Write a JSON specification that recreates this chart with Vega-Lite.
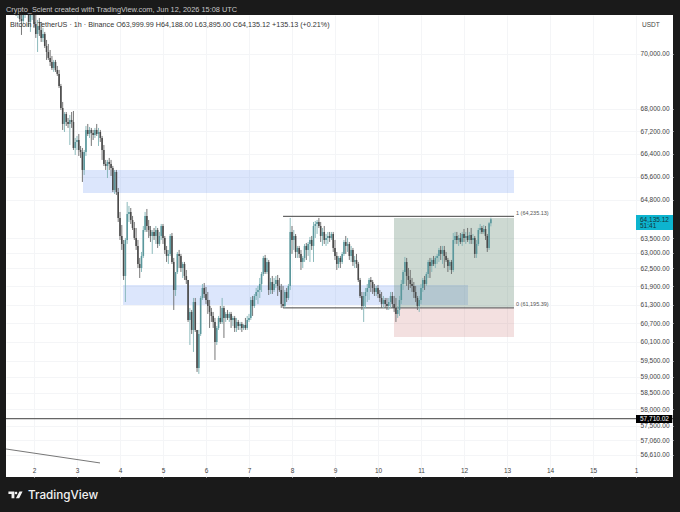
{
  "$schema": "https://vega.github.io/schema/vega-lite/v6.json",
  "width": 667,
  "height": 462,
  "autosize": {"type": "none"},
  "padding": {"left": 6, "top": 15, "right": 7, "bottom": 35},
  "background": "#1a1a1a",
  "config": {"font": "Liberation Sans", "view": {"fill": "#ffffff", "stroke": null}},
  "datasets": {
    "blueZones": [
      {"t": "2026-06-03T03:21Z", "t2": "2026-06-13T03:54Z", "p": 65831, "p2": 65034},
      {"t": "2026-06-04T01:40Z", "t2": "2026-06-12T02:14Z", "p": 61942, "p2": 61290}
    ],
    "profitZone": [{"t": "2026-06-10T08:56Z", "t2": "2026-06-13T03:54Z", "p": 64179, "p2": 61225}],
    "lossZone": [{"t": "2026-06-10T08:56Z", "t2": "2026-06-13T03:54Z", "p": 61193, "p2": 60260}],
    "fibLines": [
      {"t": "2026-06-07T19:00Z", "t2": "2026-06-13T03:54Z", "p": 64235.13},
      {"t": "2026-06-07T19:00Z", "t2": "2026-06-13T03:54Z", "p": 61195.39}
    ],
    "fibLabels": [
      {"t": "2026-06-13T05:00Z", "p": 64360, "label": "1 (64,235.13)"},
      {"t": "2026-06-13T05:00Z", "p": 61320, "label": "0 (61,195.39)"}
    ],
    "level": [{"t": "2026-06-01T08:22Z", "t2": "2026-06-16T20:39Z", "p": 57710.02}],
    "trend": [{"t": "2026-06-01T08:22Z", "t2": "2026-06-03T12:50Z", "p": 56790, "p2": 56372}],
    "lastTag": [{"t": "2026-06-16T00:00Z", "t2": "2026-06-16T20:39Z", "p": 64281, "p2": 63772}],
    "levelTag": [{"t": "2026-06-16T00:00Z", "t2": "2026-06-16T20:15Z", "p": 57823, "p2": 57579}],
    "tagDark": [
      {"t": "2026-06-16T02:14Z", "p": 64111, "label": "64,135.12"},
      {"t": "2026-06-16T02:14Z", "p": 63890, "label": "51:41"}
    ],
    "tagLight": [{"t": "2026-06-16T02:14Z", "p": 57710, "label": "57,710.02"}],
    "legend": [{"t": "2026-06-01T10:36Z", "p": 71085, "label": "Bitcoin / TetherUS · 1h · Binance  O63,999.99  H64,188.00  L63,895.00  C64,135.12  +135.13 (+0.21%)"}],
    "currency": [{"t": "2026-06-16T03:20Z", "p": 71085, "label": "USDT"}],
    "header": [{"t": "2026-06-01T08:22Z", "p": 71649, "label": "Crypto_Scient created with TradingView.com, Jun 12, 2026 15:08 UTC"}],
    "brand": [{"t": "2026-06-01T20:39Z", "p": 55426, "label": "TradingView"}],
    "brandMark": [{"t": "2026-06-01T13:40Z", "p": 55426}],
    "candles": [
      {"t":"2026-06-01T09:00Z","o":71839,"h":71954,"l":71574,"c":71724},
      {"t":"2026-06-01T10:00Z","o":71724,"h":71878,"l":71574,"c":71800},
      {"t":"2026-06-01T11:00Z","o":71800,"h":71916,"l":71537,"c":71649},
      {"t":"2026-06-01T12:00Z","o":71649,"h":71839,"l":71498,"c":71574},
      {"t":"2026-06-01T13:00Z","o":71574,"h":71800,"l":71537,"c":71724},
      {"t":"2026-06-01T14:00Z","o":71724,"h":71839,"l":71422,"c":71537},
      {"t":"2026-06-01T15:00Z","o":71537,"h":71649,"l":71348,"c":71612},
      {"t":"2026-06-01T16:00Z","o":71612,"h":71724,"l":71198,"c":71310},
      {"t":"2026-06-01T17:00Z","o":71310,"h":71574,"l":70710,"c":71235},
      {"t":"2026-06-01T18:00Z","o":71235,"h":71574,"l":71123,"c":71498},
      {"t":"2026-06-01T19:00Z","o":71498,"h":71800,"l":71348,"c":71649},
      {"t":"2026-06-01T20:00Z","o":71649,"h":71800,"l":71498,"c":71574},
      {"t":"2026-06-01T21:00Z","o":71574,"h":71724,"l":71010,"c":71198},
      {"t":"2026-06-01T22:00Z","o":71198,"h":71649,"l":70822,"c":71498},
      {"t":"2026-06-01T23:00Z","o":71498,"h":71724,"l":71273,"c":71574},
      {"t":"2026-06-02T00:00Z","o":71574,"h":71724,"l":70972,"c":71123},
      {"t":"2026-06-02T01:00Z","o":71123,"h":71498,"l":70597,"c":70747},
      {"t":"2026-06-02T02:00Z","o":70747,"h":71273,"l":70074,"c":71048},
      {"t":"2026-06-02T03:00Z","o":71048,"h":71348,"l":70672,"c":70897},
      {"t":"2026-06-02T04:00Z","o":70897,"h":71198,"l":70447,"c":70597},
      {"t":"2026-06-02T05:00Z","o":70597,"h":70972,"l":70447,"c":70747},
      {"t":"2026-06-02T06:00Z","o":70747,"h":70822,"l":70222,"c":70297},
      {"t":"2026-06-02T07:00Z","o":70297,"h":70522,"l":69780,"c":70074},
      {"t":"2026-06-02T08:00Z","o":70074,"h":70372,"l":69780,"c":69854},
      {"t":"2026-06-02T09:00Z","o":69854,"h":70148,"l":69558,"c":69706},
      {"t":"2026-06-02T10:00Z","o":69706,"h":69927,"l":69411,"c":69484},
      {"t":"2026-06-02T11:00Z","o":69484,"h":69780,"l":69338,"c":69706},
      {"t":"2026-06-02T12:00Z","o":69706,"h":69780,"l":69338,"c":69411},
      {"t":"2026-06-02T13:00Z","o":69411,"h":69558,"l":69191,"c":69265},
      {"t":"2026-06-02T14:00Z","o":69265,"h":69411,"l":68752,"c":68825},
      {"t":"2026-06-02T15:00Z","o":68825,"h":68898,"l":67955,"c":68027},
      {"t":"2026-06-02T16:00Z","o":68027,"h":68244,"l":67240,"c":67454},
      {"t":"2026-06-02T17:00Z","o":67454,"h":67883,"l":67169,"c":67812},
      {"t":"2026-06-02T18:00Z","o":67812,"h":67883,"l":67383,"c":67526},
      {"t":"2026-06-02T19:00Z","o":67526,"h":67669,"l":67312,"c":67454},
      {"t":"2026-06-02T20:00Z","o":67454,"h":67776,"l":66708,"c":67597},
      {"t":"2026-06-02T21:00Z","o":67597,"h":67883,"l":67312,"c":67526},
      {"t":"2026-06-02T22:00Z","o":67526,"h":67919,"l":66532,"c":66602},
      {"t":"2026-06-02T23:00Z","o":66602,"h":66956,"l":66356,"c":66814},
      {"t":"2026-06-03T00:00Z","o":66814,"h":67027,"l":66532,"c":66885},
      {"t":"2026-06-03T01:00Z","o":66885,"h":67098,"l":66321,"c":66532},
      {"t":"2026-06-03T02:00Z","o":66532,"h":66673,"l":66251,"c":66462},
      {"t":"2026-06-03T03:00Z","o":66462,"h":66602,"l":65414,"c":65831},
      {"t":"2026-06-03T04:00Z","o":65831,"h":66532,"l":65657,"c":66462},
      {"t":"2026-06-03T05:00Z","o":66462,"h":67383,"l":66321,"c":67240},
      {"t":"2026-06-03T06:00Z","o":67240,"h":67454,"l":67027,"c":67098},
      {"t":"2026-06-03T07:00Z","o":67098,"h":67347,"l":66956,"c":67240},
      {"t":"2026-06-03T08:00Z","o":67240,"h":67312,"l":66673,"c":67134},
      {"t":"2026-06-03T09:00Z","o":67134,"h":67240,"l":66885,"c":67063},
      {"t":"2026-06-03T10:00Z","o":67063,"h":67312,"l":66956,"c":67240},
      {"t":"2026-06-03T11:00Z","o":67240,"h":67454,"l":67027,"c":67098},
      {"t":"2026-06-03T12:00Z","o":67098,"h":67312,"l":66673,"c":67169},
      {"t":"2026-06-03T13:00Z","o":67169,"h":67240,"l":66814,"c":66956},
      {"t":"2026-06-03T14:00Z","o":66956,"h":67027,"l":66181,"c":66532},
      {"t":"2026-06-03T15:00Z","o":66532,"h":66708,"l":65971,"c":66041},
      {"t":"2026-06-03T16:00Z","o":66041,"h":66181,"l":65831,"c":65971},
      {"t":"2026-06-03T17:00Z","o":65971,"h":66181,"l":65552,"c":66111},
      {"t":"2026-06-03T18:00Z","o":66111,"h":66251,"l":65831,"c":66041},
      {"t":"2026-06-03T19:00Z","o":66041,"h":66181,"l":65622,"c":65901},
      {"t":"2026-06-03T20:00Z","o":65901,"h":65971,"l":65068,"c":65137},
      {"t":"2026-06-03T21:00Z","o":65137,"h":65831,"l":64999,"c":65761},
      {"t":"2026-06-03T22:00Z","o":65761,"h":65831,"l":64965,"c":65068},
      {"t":"2026-06-03T23:00Z","o":65068,"h":65206,"l":64043,"c":64179},
      {"t":"2026-06-04T00:00Z","o":64179,"h":64383,"l":63436,"c":63570},
      {"t":"2026-06-04T01:00Z","o":63570,"h":63941,"l":63101,"c":63302},
      {"t":"2026-06-04T02:00Z","o":63302,"h":63436,"l":62106,"c":62238},
      {"t":"2026-06-04T03:00Z","o":62238,"h":63503,"l":61387,"c":63436},
      {"t":"2026-06-04T04:00Z","o":63436,"h":64725,"l":63302,"c":64315},
      {"t":"2026-06-04T05:00Z","o":64315,"h":64588,"l":64043,"c":64383},
      {"t":"2026-06-04T06:00Z","o":64383,"h":64519,"l":63975,"c":64111},
      {"t":"2026-06-04T07:00Z","o":64111,"h":64247,"l":63772,"c":63840},
      {"t":"2026-06-04T08:00Z","o":63840,"h":64043,"l":63436,"c":63503},
      {"t":"2026-06-04T09:00Z","o":63503,"h":63840,"l":63101,"c":63235},
      {"t":"2026-06-04T10:00Z","o":63235,"h":63436,"l":62502,"c":62635},
      {"t":"2026-06-04T11:00Z","o":62635,"h":62835,"l":62172,"c":62502},
      {"t":"2026-06-04T12:00Z","o":62502,"h":63034,"l":62370,"c":62901},
      {"t":"2026-06-04T13:00Z","o":62901,"h":63907,"l":62835,"c":63772},
      {"t":"2026-06-04T14:00Z","o":63772,"h":64383,"l":63705,"c":64247},
      {"t":"2026-06-04T15:00Z","o":64247,"h":64485,"l":63705,"c":63907},
      {"t":"2026-06-04T16:00Z","o":63907,"h":64111,"l":63503,"c":63772},
      {"t":"2026-06-04T17:00Z","o":63772,"h":63907,"l":63369,"c":63570},
      {"t":"2026-06-04T18:00Z","o":63570,"h":63772,"l":62968,"c":63705},
      {"t":"2026-06-04T19:00Z","o":63705,"h":63840,"l":63436,"c":63570},
      {"t":"2026-06-04T20:00Z","o":63570,"h":63907,"l":63302,"c":63772},
      {"t":"2026-06-04T21:00Z","o":63772,"h":63840,"l":63168,"c":63302},
      {"t":"2026-06-04T22:00Z","o":63302,"h":63705,"l":63235,"c":63570},
      {"t":"2026-06-04T23:00Z","o":63570,"h":63975,"l":63436,"c":63907},
      {"t":"2026-06-05T00:00Z","o":63907,"h":63975,"l":63302,"c":63503},
      {"t":"2026-06-05T01:00Z","o":63503,"h":63570,"l":62968,"c":63101},
      {"t":"2026-06-05T02:00Z","o":63101,"h":63235,"l":62702,"c":62901},
      {"t":"2026-06-05T03:00Z","o":62901,"h":63101,"l":62635,"c":62968},
      {"t":"2026-06-05T04:00Z","o":62968,"h":63637,"l":62901,"c":63570},
      {"t":"2026-06-05T05:00Z","o":63570,"h":63671,"l":62635,"c":62702},
      {"t":"2026-06-05T06:00Z","o":62702,"h":62835,"l":61128,"c":61778},
      {"t":"2026-06-05T07:00Z","o":61778,"h":62370,"l":61582,"c":62370},
      {"t":"2026-06-05T08:00Z","o":62370,"h":63034,"l":62304,"c":62968},
      {"t":"2026-06-05T09:00Z","o":62968,"h":63101,"l":62502,"c":62901},
      {"t":"2026-06-05T10:00Z","o":62901,"h":62968,"l":62370,"c":62502},
      {"t":"2026-06-05T11:00Z","o":62502,"h":62702,"l":62172,"c":62635},
      {"t":"2026-06-05T12:00Z","o":62635,"h":62702,"l":62106,"c":62238},
      {"t":"2026-06-05T13:00Z","o":62238,"h":62436,"l":61975,"c":62106},
      {"t":"2026-06-05T14:00Z","o":62106,"h":62106,"l":60741,"c":60805},
      {"t":"2026-06-05T15:00Z","o":60805,"h":61193,"l":60005,"c":61064},
      {"t":"2026-06-05T16:00Z","o":61064,"h":61128,"l":60356,"c":60484},
      {"t":"2026-06-05T17:00Z","o":60484,"h":61517,"l":59784,"c":61387},
      {"t":"2026-06-05T18:00Z","o":61387,"h":61517,"l":60420,"c":60484},
      {"t":"2026-06-05T19:00Z","o":60484,"h":60484,"l":59155,"c":59280},
      {"t":"2026-06-05T20:00Z","o":59280,"h":60484,"l":59093,"c":60356},
      {"t":"2026-06-05T21:00Z","o":60356,"h":61582,"l":60292,"c":61517},
      {"t":"2026-06-05T22:00Z","o":61517,"h":61975,"l":61452,"c":61844},
      {"t":"2026-06-05T23:00Z","o":61844,"h":62007,"l":61517,"c":61647},
      {"t":"2026-06-06T00:00Z","o":61647,"h":61877,"l":61323,"c":61452},
      {"t":"2026-06-06T01:00Z","o":61452,"h":61713,"l":60999,"c":61258},
      {"t":"2026-06-06T02:00Z","o":61258,"h":61452,"l":60548,"c":61064},
      {"t":"2026-06-06T03:00Z","o":61064,"h":61193,"l":60741,"c":60934},
      {"t":"2026-06-06T04:00Z","o":60934,"h":61064,"l":60548,"c":60741},
      {"t":"2026-06-06T05:00Z","o":60741,"h":60870,"l":59531,"c":60100},
      {"t":"2026-06-06T06:00Z","o":60100,"h":60612,"l":60005,"c":60548},
      {"t":"2026-06-06T07:00Z","o":60548,"h":60934,"l":60484,"c":60870},
      {"t":"2026-06-06T08:00Z","o":60870,"h":61258,"l":60676,"c":60741},
      {"t":"2026-06-06T09:00Z","o":60741,"h":61517,"l":60676,"c":61193},
      {"t":"2026-06-06T10:00Z","o":61193,"h":61258,"l":60228,"c":60870},
      {"t":"2026-06-06T11:00Z","o":60870,"h":61064,"l":60741,"c":60999},
      {"t":"2026-06-06T12:00Z","o":60999,"h":61128,"l":60805,"c":60870},
      {"t":"2026-06-06T13:00Z","o":60870,"h":61064,"l":60741,"c":60999},
      {"t":"2026-06-06T14:00Z","o":60999,"h":61064,"l":60548,"c":60805},
      {"t":"2026-06-06T15:00Z","o":60805,"h":60934,"l":60612,"c":60870},
      {"t":"2026-06-06T16:00Z","o":60870,"h":60934,"l":60420,"c":60548},
      {"t":"2026-06-06T17:00Z","o":60548,"h":60870,"l":60420,"c":60741},
      {"t":"2026-06-06T18:00Z","o":60741,"h":60805,"l":60484,"c":60612},
      {"t":"2026-06-06T19:00Z","o":60612,"h":60741,"l":60484,"c":60676},
      {"t":"2026-06-06T20:00Z","o":60676,"h":60741,"l":60420,"c":60548},
      {"t":"2026-06-06T21:00Z","o":60548,"h":60676,"l":60484,"c":60644},
      {"t":"2026-06-06T22:00Z","o":60644,"h":60870,"l":60484,"c":60548},
      {"t":"2026-06-06T23:00Z","o":60548,"h":60934,"l":60484,"c":60805},
      {"t":"2026-06-07T00:00Z","o":60805,"h":60999,"l":60741,"c":60870},
      {"t":"2026-06-07T01:00Z","o":60870,"h":61550,"l":60805,"c":61452},
      {"t":"2026-06-07T02:00Z","o":61452,"h":61582,"l":60934,"c":61258},
      {"t":"2026-06-07T03:00Z","o":61258,"h":61647,"l":61193,"c":61582},
      {"t":"2026-06-07T04:00Z","o":61582,"h":61844,"l":61452,"c":61713},
      {"t":"2026-06-07T05:00Z","o":61713,"h":61910,"l":61323,"c":61778},
      {"t":"2026-06-07T06:00Z","o":61778,"h":62172,"l":61517,"c":61975},
      {"t":"2026-06-07T07:00Z","o":61975,"h":62370,"l":61713,"c":62304},
      {"t":"2026-06-07T08:00Z","o":62304,"h":62901,"l":62238,"c":62835},
      {"t":"2026-06-07T09:00Z","o":62835,"h":62935,"l":62304,"c":62370},
      {"t":"2026-06-07T10:00Z","o":62370,"h":62835,"l":62304,"c":62702},
      {"t":"2026-06-07T11:00Z","o":62702,"h":62768,"l":61615,"c":61778},
      {"t":"2026-06-07T12:00Z","o":61778,"h":62172,"l":61647,"c":62040},
      {"t":"2026-06-07T13:00Z","o":62040,"h":62238,"l":61647,"c":61778},
      {"t":"2026-06-07T14:00Z","o":61778,"h":62172,"l":61713,"c":61975},
      {"t":"2026-06-07T15:00Z","o":61975,"h":62238,"l":61844,"c":62106},
      {"t":"2026-06-07T16:00Z","o":62106,"h":62271,"l":61582,"c":61910},
      {"t":"2026-06-07T17:00Z","o":61910,"h":62172,"l":61713,"c":61778},
      {"t":"2026-06-07T18:00Z","o":61778,"h":61975,"l":61193,"c":61323},
      {"t":"2026-06-07T19:00Z","o":61323,"h":61910,"l":61193,"c":61258},
      {"t":"2026-06-07T20:00Z","o":61258,"h":61778,"l":61193,"c":61713},
      {"t":"2026-06-07T21:00Z","o":61713,"h":61844,"l":61387,"c":61517},
      {"t":"2026-06-07T22:00Z","o":61517,"h":61975,"l":61452,"c":61910},
      {"t":"2026-06-07T23:00Z","o":61910,"h":64179,"l":61778,"c":63705},
      {"t":"2026-06-08T00:00Z","o":63705,"h":63907,"l":62968,"c":63436},
      {"t":"2026-06-08T01:00Z","o":63436,"h":63772,"l":63101,"c":63570},
      {"t":"2026-06-08T02:00Z","o":63570,"h":63637,"l":62835,"c":63034},
      {"t":"2026-06-08T03:00Z","o":63034,"h":63235,"l":62835,"c":63168},
      {"t":"2026-06-08T04:00Z","o":63168,"h":63235,"l":62835,"c":62968},
      {"t":"2026-06-08T05:00Z","o":62968,"h":63101,"l":62436,"c":62702},
      {"t":"2026-06-08T06:00Z","o":62702,"h":62901,"l":62502,"c":62835},
      {"t":"2026-06-08T07:00Z","o":62835,"h":63302,"l":62702,"c":63235},
      {"t":"2026-06-08T08:00Z","o":63235,"h":63336,"l":62768,"c":63101},
      {"t":"2026-06-08T09:00Z","o":63101,"h":63369,"l":62901,"c":63302},
      {"t":"2026-06-08T10:00Z","o":63302,"h":63537,"l":62702,"c":63436},
      {"t":"2026-06-08T11:00Z","o":63436,"h":63570,"l":63101,"c":63235},
      {"t":"2026-06-08T12:00Z","o":63235,"h":64043,"l":62702,"c":63907},
      {"t":"2026-06-08T13:00Z","o":63907,"h":64077,"l":63503,"c":63975},
      {"t":"2026-06-08T14:00Z","o":63975,"h":64111,"l":63637,"c":64043},
      {"t":"2026-06-08T15:00Z","o":64043,"h":64179,"l":63840,"c":63907},
      {"t":"2026-06-08T16:00Z","o":63907,"h":64043,"l":63369,"c":63570},
      {"t":"2026-06-08T17:00Z","o":63570,"h":63840,"l":63235,"c":63705},
      {"t":"2026-06-08T18:00Z","o":63705,"h":63907,"l":63302,"c":63436},
      {"t":"2026-06-08T19:00Z","o":63436,"h":63637,"l":63235,"c":63503},
      {"t":"2026-06-08T20:00Z","o":63503,"h":63705,"l":63302,"c":63570},
      {"t":"2026-06-08T21:00Z","o":63570,"h":63705,"l":63369,"c":63503},
      {"t":"2026-06-08T22:00Z","o":63503,"h":63705,"l":63436,"c":63637},
      {"t":"2026-06-08T23:00Z","o":63637,"h":63705,"l":63034,"c":63168},
      {"t":"2026-06-09T00:00Z","o":63168,"h":63436,"l":62768,"c":62901},
      {"t":"2026-06-09T01:00Z","o":62901,"h":63034,"l":62436,"c":62635},
      {"t":"2026-06-09T02:00Z","o":62635,"h":62901,"l":62502,"c":62835},
      {"t":"2026-06-09T03:00Z","o":62835,"h":62901,"l":62502,"c":62702},
      {"t":"2026-06-09T04:00Z","o":62702,"h":63034,"l":62635,"c":62968},
      {"t":"2026-06-09T05:00Z","o":62968,"h":63436,"l":62901,"c":63369},
      {"t":"2026-06-09T06:00Z","o":63369,"h":63570,"l":62968,"c":63235},
      {"t":"2026-06-09T07:00Z","o":63235,"h":63503,"l":63034,"c":63302},
      {"t":"2026-06-09T08:00Z","o":63302,"h":63369,"l":62768,"c":62901},
      {"t":"2026-06-09T09:00Z","o":62901,"h":63235,"l":62702,"c":63101},
      {"t":"2026-06-09T10:00Z","o":63101,"h":63168,"l":62569,"c":62702},
      {"t":"2026-06-09T11:00Z","o":62702,"h":62901,"l":62502,"c":62768},
      {"t":"2026-06-09T12:00Z","o":62768,"h":62968,"l":62502,"c":62635},
      {"t":"2026-06-09T13:00Z","o":62635,"h":62702,"l":62040,"c":62106},
      {"t":"2026-06-09T14:00Z","o":62106,"h":62172,"l":61517,"c":61582},
      {"t":"2026-06-09T15:00Z","o":61582,"h":61713,"l":61128,"c":61258},
      {"t":"2026-06-09T16:00Z","o":61258,"h":61713,"l":60741,"c":61582},
      {"t":"2026-06-09T17:00Z","o":61582,"h":61844,"l":61193,"c":61713},
      {"t":"2026-06-09T18:00Z","o":61713,"h":61975,"l":61387,"c":61844},
      {"t":"2026-06-09T19:00Z","o":61844,"h":62172,"l":61452,"c":62106},
      {"t":"2026-06-09T20:00Z","o":62106,"h":62205,"l":61713,"c":62040},
      {"t":"2026-06-09T21:00Z","o":62040,"h":62106,"l":61647,"c":61844},
      {"t":"2026-06-09T22:00Z","o":61844,"h":61975,"l":61582,"c":61713},
      {"t":"2026-06-09T23:00Z","o":61713,"h":61910,"l":61582,"c":61844},
      {"t":"2026-06-10T00:00Z","o":61844,"h":61942,"l":61517,"c":61647},
      {"t":"2026-06-10T01:00Z","o":61647,"h":61778,"l":61387,"c":61517},
      {"t":"2026-06-10T02:00Z","o":61517,"h":61713,"l":61193,"c":61323},
      {"t":"2026-06-10T03:00Z","o":61323,"h":61582,"l":61193,"c":61452},
      {"t":"2026-06-10T04:00Z","o":61452,"h":61517,"l":61193,"c":61323},
      {"t":"2026-06-10T05:00Z","o":61323,"h":61517,"l":61128,"c":61258},
      {"t":"2026-06-10T06:00Z","o":61258,"h":61517,"l":61128,"c":61387},
      {"t":"2026-06-10T07:00Z","o":61387,"h":61713,"l":61193,"c":61582},
      {"t":"2026-06-10T08:00Z","o":61582,"h":61713,"l":61193,"c":61323},
      {"t":"2026-06-10T09:00Z","o":61323,"h":61582,"l":61064,"c":61193},
      {"t":"2026-06-10T10:00Z","o":61193,"h":61517,"l":60741,"c":60999},
      {"t":"2026-06-10T11:00Z","o":60999,"h":61258,"l":60870,"c":61128},
      {"t":"2026-06-10T12:00Z","o":61128,"h":61582,"l":60934,"c":61452},
      {"t":"2026-06-10T13:00Z","o":61452,"h":62106,"l":61323,"c":61975},
      {"t":"2026-06-10T14:00Z","o":61975,"h":62436,"l":61778,"c":62370},
      {"t":"2026-06-10T15:00Z","o":62370,"h":62868,"l":61975,"c":62702},
      {"t":"2026-06-10T16:00Z","o":62702,"h":62835,"l":61910,"c":62238},
      {"t":"2026-06-10T17:00Z","o":62238,"h":62502,"l":61778,"c":62106},
      {"t":"2026-06-10T18:00Z","o":62106,"h":62436,"l":61844,"c":61975},
      {"t":"2026-06-10T19:00Z","o":61975,"h":62172,"l":61713,"c":61910},
      {"t":"2026-06-10T20:00Z","o":61910,"h":62040,"l":61517,"c":61713},
      {"t":"2026-06-10T21:00Z","o":61713,"h":61910,"l":61387,"c":61517},
      {"t":"2026-06-10T22:00Z","o":61517,"h":61582,"l":61128,"c":61258},
      {"t":"2026-06-10T23:00Z","o":61258,"h":61582,"l":61064,"c":61452},
      {"t":"2026-06-11T00:00Z","o":61452,"h":61975,"l":61323,"c":61844},
      {"t":"2026-06-11T01:00Z","o":61844,"h":62172,"l":61713,"c":62106},
      {"t":"2026-06-11T02:00Z","o":62106,"h":62238,"l":61778,"c":61975},
      {"t":"2026-06-11T03:00Z","o":61975,"h":62370,"l":61910,"c":62304},
      {"t":"2026-06-11T04:00Z","o":62304,"h":62768,"l":62172,"c":62702},
      {"t":"2026-06-11T05:00Z","o":62702,"h":62835,"l":62172,"c":62569},
      {"t":"2026-06-11T06:00Z","o":62569,"h":62835,"l":62370,"c":62768},
      {"t":"2026-06-11T07:00Z","o":62768,"h":62901,"l":62569,"c":62635},
      {"t":"2026-06-11T08:00Z","o":62635,"h":62901,"l":62502,"c":62835},
      {"t":"2026-06-11T09:00Z","o":62835,"h":62968,"l":62635,"c":62901},
      {"t":"2026-06-11T10:00Z","o":62901,"h":63168,"l":62702,"c":63101},
      {"t":"2026-06-11T11:00Z","o":63101,"h":63235,"l":62768,"c":62968},
      {"t":"2026-06-11T12:00Z","o":62968,"h":63235,"l":62635,"c":63101},
      {"t":"2026-06-11T13:00Z","o":63101,"h":63235,"l":62502,"c":62901},
      {"t":"2026-06-11T14:00Z","o":62901,"h":63034,"l":62702,"c":62768},
      {"t":"2026-06-11T15:00Z","o":62768,"h":62835,"l":62370,"c":62569},
      {"t":"2026-06-11T16:00Z","o":62569,"h":62768,"l":62436,"c":62702},
      {"t":"2026-06-11T17:00Z","o":62702,"h":62768,"l":62304,"c":62436},
      {"t":"2026-06-11T18:00Z","o":62436,"h":63671,"l":62370,"c":63436},
      {"t":"2026-06-11T19:00Z","o":63436,"h":63705,"l":63302,"c":63570},
      {"t":"2026-06-11T20:00Z","o":63570,"h":63705,"l":63302,"c":63436},
      {"t":"2026-06-11T21:00Z","o":63436,"h":63604,"l":63235,"c":63503},
      {"t":"2026-06-11T22:00Z","o":63503,"h":63671,"l":63302,"c":63369},
      {"t":"2026-06-11T23:00Z","o":63369,"h":63705,"l":63235,"c":63637},
      {"t":"2026-06-12T00:00Z","o":63637,"h":63806,"l":63369,"c":63503},
      {"t":"2026-06-12T01:00Z","o":63503,"h":63705,"l":63302,"c":63570},
      {"t":"2026-06-12T02:00Z","o":63570,"h":63840,"l":63369,"c":63436},
      {"t":"2026-06-12T03:00Z","o":63436,"h":63705,"l":63302,"c":63604},
      {"t":"2026-06-12T04:00Z","o":63604,"h":63840,"l":63302,"c":63436},
      {"t":"2026-06-12T05:00Z","o":63436,"h":63637,"l":63302,"c":63503},
      {"t":"2026-06-12T06:00Z","o":63503,"h":63570,"l":62835,"c":62968},
      {"t":"2026-06-12T07:00Z","o":62968,"h":63436,"l":62835,"c":63302},
      {"t":"2026-06-12T08:00Z","o":63302,"h":63840,"l":63235,"c":63772},
      {"t":"2026-06-12T09:00Z","o":63772,"h":63975,"l":63637,"c":63840},
      {"t":"2026-06-12T10:00Z","o":63840,"h":63907,"l":63637,"c":63705},
      {"t":"2026-06-12T11:00Z","o":63705,"h":63941,"l":63637,"c":63806},
      {"t":"2026-06-12T12:00Z","o":63806,"h":63907,"l":63436,"c":63570},
      {"t":"2026-06-12T13:00Z","o":63570,"h":63637,"l":63034,"c":63168},
      {"t":"2026-06-12T14:00Z","o":63168,"h":64043,"l":63101,"c":64000},
      {"t":"2026-06-12T15:00Z","o":63999.99,"h":64188,"l":63895,"c":64135.12}
    ]
  },
  "encoding": {
    "x": {
      "field": "t",
      "type": "temporal",
      "title": null,
      "scale": {"type": "utc", "domain": ["2026-06-01T08:22Z", "2026-06-16T20:39Z"]},
      "axis": {
        "tickCount": {"interval": "day", "step": 1},
        "grid": true,
        "gridColor": "#f4f5f7",
        "domain": false,
        "ticks": false,
        "labelOverlap": false,
        "labelBound": false,
        "labelFlush": false,
        "labelExpr": "utcdate(datum.value) == 16 ? '1' : utcFormat(datum.value, '%-d')",
        "labelBaseline": "middle",
        "labelPadding": -7,
        "labelFontSize": 6.5,
        "labelColor": "#444444"
      }
    },
    "y": {
      "field": "p",
      "type": "quantitative",
      "title": null,
      "scale": {"type": "log", "domain": [55954, 71460], "nice": false},
      "axis": {
        "orient": "right",
        "values": [70000, 68000, 67200, 66400, 65600, 64800, 63500, 63000, 62500, 61900, 61300, 60700, 60100, 59500, 59000, 58500, 58000, 57500, 57060, 56610],
        "format": ",.2f",
        "grid": true,
        "gridColor": "#f4f5f7",
        "domain": false,
        "ticks": false,
        "labelAlign": "right",
        "labelPadding": -4,
        "labelFontSize": 6.5,
        "labelColor": "#444444",
        "labelOverlap": false,
        "labelBound": false,
        "labelFlush": false
      }
    }
  },
  "layer": [
    {
      "data": {"name": "blueZones", "format": {"parse": {"t": "date", "t2": "date"}}},
      "mark": {"type": "rect", "color": "#5082f0", "opacity": 0.2},
      "encoding": {"x2": {"field": "t2"}, "y2": {"field": "p2"}}
    },
    {
      "data": {"name": "profitZone", "format": {"parse": {"t": "date", "t2": "date"}}},
      "mark": {"type": "rect", "color": "#588069", "opacity": 0.3},
      "encoding": {"x2": {"field": "t2"}, "y2": {"field": "p2"}}
    },
    {
      "data": {"name": "lossZone", "format": {"parse": {"t": "date", "t2": "date"}}},
      "mark": {"type": "rect", "color": "#c36464", "opacity": 0.2},
      "encoding": {"x2": {"field": "t2"}, "y2": {"field": "p2"}}
    },
    {
      "data": {"name": "trend", "format": {"parse": {"t": "date", "t2": "date"}}},
      "mark": {"type": "rule", "color": "#777777", "strokeWidth": 1},
      "encoding": {"x2": {"field": "t2"}, "y2": {"field": "p2"}}
    },
    {
      "data": {"name": "level", "format": {"parse": {"t": "date", "t2": "date"}}},
      "mark": {"type": "rule", "color": "#666666", "strokeWidth": 1.3},
      "encoding": {"x2": {"field": "t2"}}
    },
    {
      "data": {"name": "fibLines", "format": {"parse": {"t": "date", "t2": "date"}}},
      "mark": {"type": "rule", "color": "#444444", "strokeWidth": 1},
      "encoding": {"x2": {"field": "t2"}}
    },
    {
      "data": {"name": "candles", "format": {"parse": {"t": "date"}}},
      "mark": {"type": "rule", "strokeWidth": 0.9, "clip": true},
      "encoding": {
        "y": {"field": "l", "type": "quantitative", "title": null},
        "y2": {"field": "h"},
        "color": {"condition": {"test": "datum.c >= datum.o", "value": "#7fb2b4"}, "value": "#666666"}
      }
    },
    {
      "data": {"name": "candles", "format": {"parse": {"t": "date"}}},
      "mark": {"type": "rule", "strokeWidth": 1.6, "clip": true},
      "encoding": {
        "y": {"field": "o", "type": "quantitative", "title": null},
        "y2": {"field": "c"},
        "color": {"condition": {"test": "datum.c >= datum.o", "value": "#5a979c"}, "value": "#4a4a4a"}
      }
    },
    {
      "data": {"name": "lastTag", "format": {"parse": {"t": "date", "t2": "date"}}},
      "mark": {"type": "rect", "color": "#0db4cf"},
      "encoding": {"x2": {"field": "t2"}, "y2": {"field": "p2"}}
    },
    {
      "data": {"name": "levelTag", "format": {"parse": {"t": "date", "t2": "date"}}},
      "mark": {"type": "rect", "color": "#000000"},
      "encoding": {"x2": {"field": "t2"}, "y2": {"field": "p2"}}
    },
    {
      "data": {"name": "tagDark", "format": {"parse": {"t": "date"}}},
      "mark": {"type": "text", "align": "left", "baseline": "middle", "fontSize": 6.5, "color": "#12343b"},
      "encoding": {"text": {"field": "label"}}
    },
    {
      "data": {"name": "tagLight", "format": {"parse": {"t": "date"}}},
      "mark": {"type": "text", "align": "left", "baseline": "middle", "fontSize": 6.5, "color": "#ffffff"},
      "encoding": {"text": {"field": "label"}}
    },
    {
      "data": {"name": "fibLabels", "format": {"parse": {"t": "date"}}},
      "mark": {"type": "text", "align": "left", "baseline": "middle", "fontSize": 5.5, "color": "#555555"},
      "encoding": {"text": {"field": "label"}}
    },
    {
      "data": {"name": "legend", "format": {"parse": {"t": "date"}}},
      "mark": {"type": "text", "align": "left", "baseline": "middle", "fontSize": 7.2, "color": "#333333"},
      "encoding": {"text": {"field": "label"}}
    },
    {
      "data": {"name": "currency", "format": {"parse": {"t": "date"}}},
      "mark": {"type": "text", "align": "left", "baseline": "middle", "fontSize": 6.5, "color": "#444444"},
      "encoding": {"text": {"field": "label"}}
    },
    {
      "data": {"name": "header", "format": {"parse": {"t": "date"}}},
      "mark": {"type": "text", "align": "left", "baseline": "middle", "fontSize": 7.4, "color": "#c8c8c8"},
      "encoding": {"text": {"field": "label"}}
    },
    {
      "data": {"name": "brand", "format": {"parse": {"t": "date"}}},
      "mark": {"type": "text", "align": "left", "baseline": "middle", "font": "Inter", "fontSize": 11.7, "fontWeight": 500, "color": "#f2f2f2"},
      "encoding": {"text": {"field": "label"}}
    },
    {
      "data": {"name": "brandMark", "format": {"parse": {"t": "date"}}},
      "mark": {
        "type": "point",
        "filled": true,
        "opacity": 1,
        "color": "#f2f2f2",
        "size": 800,
        "shape": "M -0.5 -0.235 H -0.08 V 0.235 H -0.28 V -0.06 H -0.5 Z M -0.05 -0.14 A 0.09 0.09 0 1 0 0.13 -0.14 A 0.09 0.09 0 1 0 -0.05 -0.14 Z M 0.28 -0.235 H 0.5 L 0.26 0.235 H 0.03 Z"
      }
    }
  ]
}
